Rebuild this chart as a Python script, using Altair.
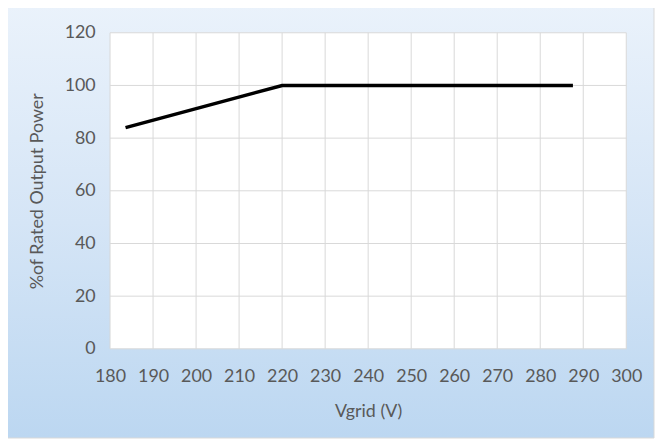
import altair as alt
import pandas as pd

# data
vgrid = [183.6, 220, 287.6]
power = [84, 100, 100]
x_ticks = [180, 190, 200, 210, 220, 230, 240, 250, 260, 270, 280, 290, 300]
y_ticks = [0, 20, 40, 60, 80, 100, 120]

W, H = 521, 319
FONT = "Lato"
TXT = "#595959"
GRID = "#d9d9d9"

xs = alt.Scale(domain=[180, 300], nice=False, zero=False)
ys = alt.Scale(domain=[0, 120], nice=False)

x_axis = alt.Axis(values=x_ticks, grid=False, domain=False, ticks=False, labelPadding=19,
                  title="Vgrid (V)", titlePadding=17, zindex=1, labelFlush=False)
y_axis = alt.Axis(values=y_ticks, grid=False, domain=False, ticks=False, labelPadding=15,
                  title="%of Rated Output Power", titlePadding=18, zindex=1, labelFlush=False)

one = pd.DataFrame({"a": [0]})
line_df = pd.DataFrame({"v": vgrid, "p": power})
xt = pd.DataFrame({"v": x_ticks})
yt = pd.DataFrame({"p": y_ticks})

bg = alt.Chart(one).mark_rect(
    fill=alt.Gradient(
        gradient="linear",
        stops=[alt.GradientStop(color="#eaf2fb", offset=0),
               alt.GradientStop(color="#d5e5f6", offset=0.5),
               alt.GradientStop(color="#bcd7f1", offset=1)],
        x1=0, x2=0, y1=0, y2=1),
    stroke="#d9d9d9", strokeWidth=1,
).encode(x=alt.value(-106), x2=alt.value(549), y=alt.value(-28), y2=alt.value(409))

plot_bg = alt.Chart(one).mark_rect(fill="white").encode(
    x=alt.value(0), x2=alt.value(W), y=alt.value(0), y2=alt.value(H))

vgrid_rules = alt.Chart(xt).mark_rule(color=GRID, strokeWidth=1).encode(
    x=alt.X("v:Q", scale=xs, axis=x_axis))
hgrid_rules = alt.Chart(yt).mark_rule(color=GRID, strokeWidth=1).encode(
    y=alt.Y("p:Q", scale=ys, axis=y_axis))

line = alt.Chart(line_df).mark_line(color="black", strokeWidth=3.5).encode(
    x=alt.X("v:Q", scale=xs, axis=x_axis),
    y=alt.Y("p:Q", scale=ys, axis=y_axis),
)

chart = alt.layer(bg, plot_bg, vgrid_rules, hgrid_rules, line).properties(
    width=W, height=H,
    padding={"left": 103, "top": 23, "right": 29, "bottom": 90},
    autosize=alt.AutoSizeParams(type="none"),
    background="white",
).configure_view(stroke=None).configure_axis(
    labelFont=FONT, titleFont=FONT, labelFontSize=18, titleFontSize=18,
    labelColor=TXT, titleColor=TXT, titleFontWeight="normal",
)

chart.save("out.html", embed_options={"renderer": "svg", "actions": False})
